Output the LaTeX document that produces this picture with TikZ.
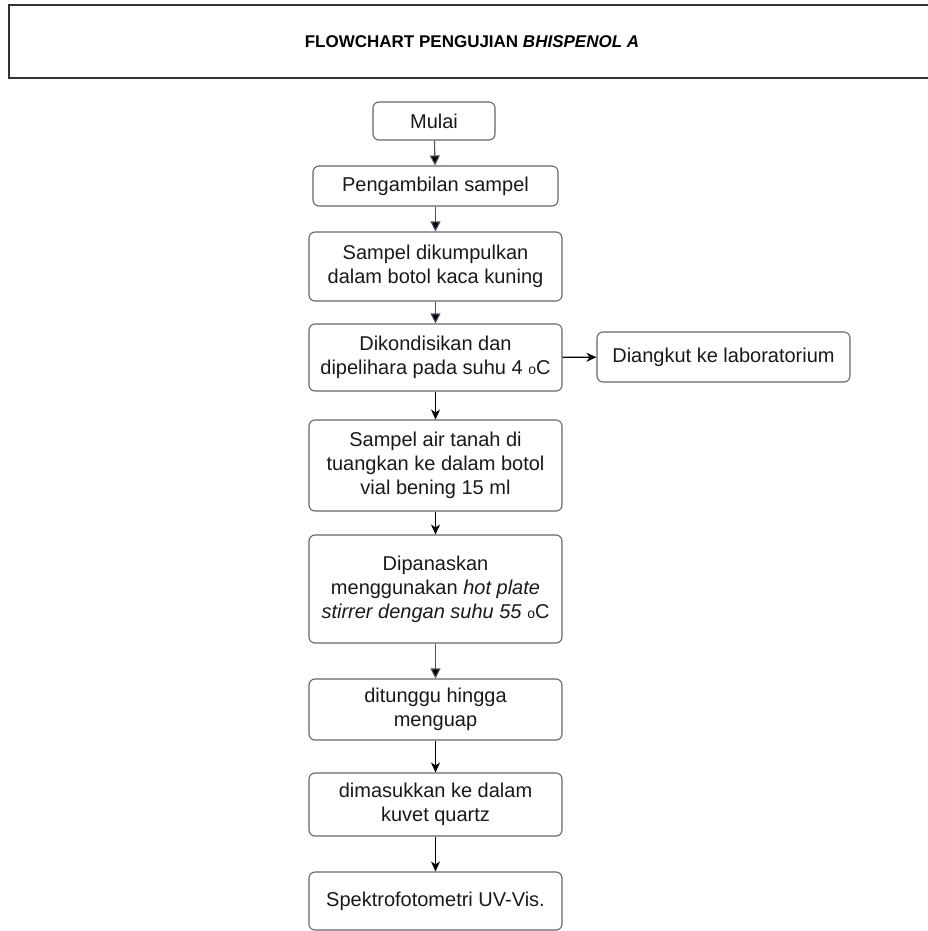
\documentclass[tikz,border=0pt]{standalone}
\usepackage{fontspec}
\setmainfont{Liberation Sans}
\usetikzlibrary{arrows,arrows.meta}
\definecolor{boxgray}{HTML}{666666}
\definecolor{tipgray}{HTML}{4A5160}
\newcommand{\degoC}{{\fontsize{14}{14}\selectfont o}C}

\begin{document}
\begin{tikzpicture}[x=1pt,y=-1pt,auto]
  \tikzset{proc/.style={draw=boxgray,rounded corners=6pt,line width=1.1pt,inner sep=2pt,
      minimum width=253pt,align=center,text=black!90,font=\fontsize{20}{24}\selectfont},
    grayedge/.style={draw=tipgray,line width=1.1pt,-{Triangle[length=10pt,width=10pt]}},
    blackedge/.style={draw=black,line width=1.1pt,-{Stealth[length=10pt,width=9pt,inset=3pt]}}}
  \clip (0,0) rectangle (928,931);
  \node[draw=black!80,line width=1.5pt,minimum width=926pt,minimum height=73pt,
    font=\fontsize{17}{20}\selectfont\bfseries] (judul) at (472,41.5)
    {FLOWCHART PENGUJIAN \textit{BHISPENOL A}};
  \node[proc,minimum width=122pt,minimum height=38pt] (mulai) at (434,121) {Mulai};
  \node[proc,minimum width=245pt,minimum height=40pt] (ambil) at (435.5,186) {Pengambilan sampel};
  \node[proc,minimum height=69pt] (kumpul)  at (435.5,266.5) {Sampel dikumpulkan\\dalam botol kaca kuning};
  \node[proc,minimum height=67pt] (kondisi) at (435.5,357.5) {Dikondisikan dan\\dipelihara pada suhu 4 \degoC};
  \node[proc,minimum height=50pt] (angkut)  at (723.5,357)   {Diangkut ke laboratorium};
  \node[proc,minimum height=91pt] (tuang)   at (435.5,465.5) {Sampel air tanah di\\tuangkan ke dalam botol\\vial bening 15 ml};
  \node[proc,minimum height=108pt] (panas)  at (435.5,589)   {Dipanaskan\\menggunakan \textit{hot plate}\\\textit{stirrer dengan suhu 55} \degoC};
  \node[proc,minimum height=61pt] (tunggu)  at (435.5,709.5) {ditunggu hingga\\menguap};
  \node[proc,minimum height=63pt] (masuk)   at (435.5,804.5) {dimasukkan ke dalam\\kuvet quartz};
  \node[proc,minimum height=58pt] (spektro) at (435.5,901)   {Spektrofotometri UV-Vis.};
  \path[grayedge]  (mulai)   edge (ambil);
  \path[grayedge]  (ambil)   edge (kumpul);
  \path[grayedge]  (kumpul)  edge (kondisi);
  \path[blackedge] (kondisi) edge (tuang);
  \path[blackedge] (kondisi) edge (angkut);
  \path[blackedge] (tuang)   edge (panas);
  \path[grayedge]  (panas)   edge (tunggu);
  \path[blackedge] (tunggu)  edge (masuk);
  \path[blackedge] (masuk)   edge (spektro);
\end{tikzpicture}
\end{document}
